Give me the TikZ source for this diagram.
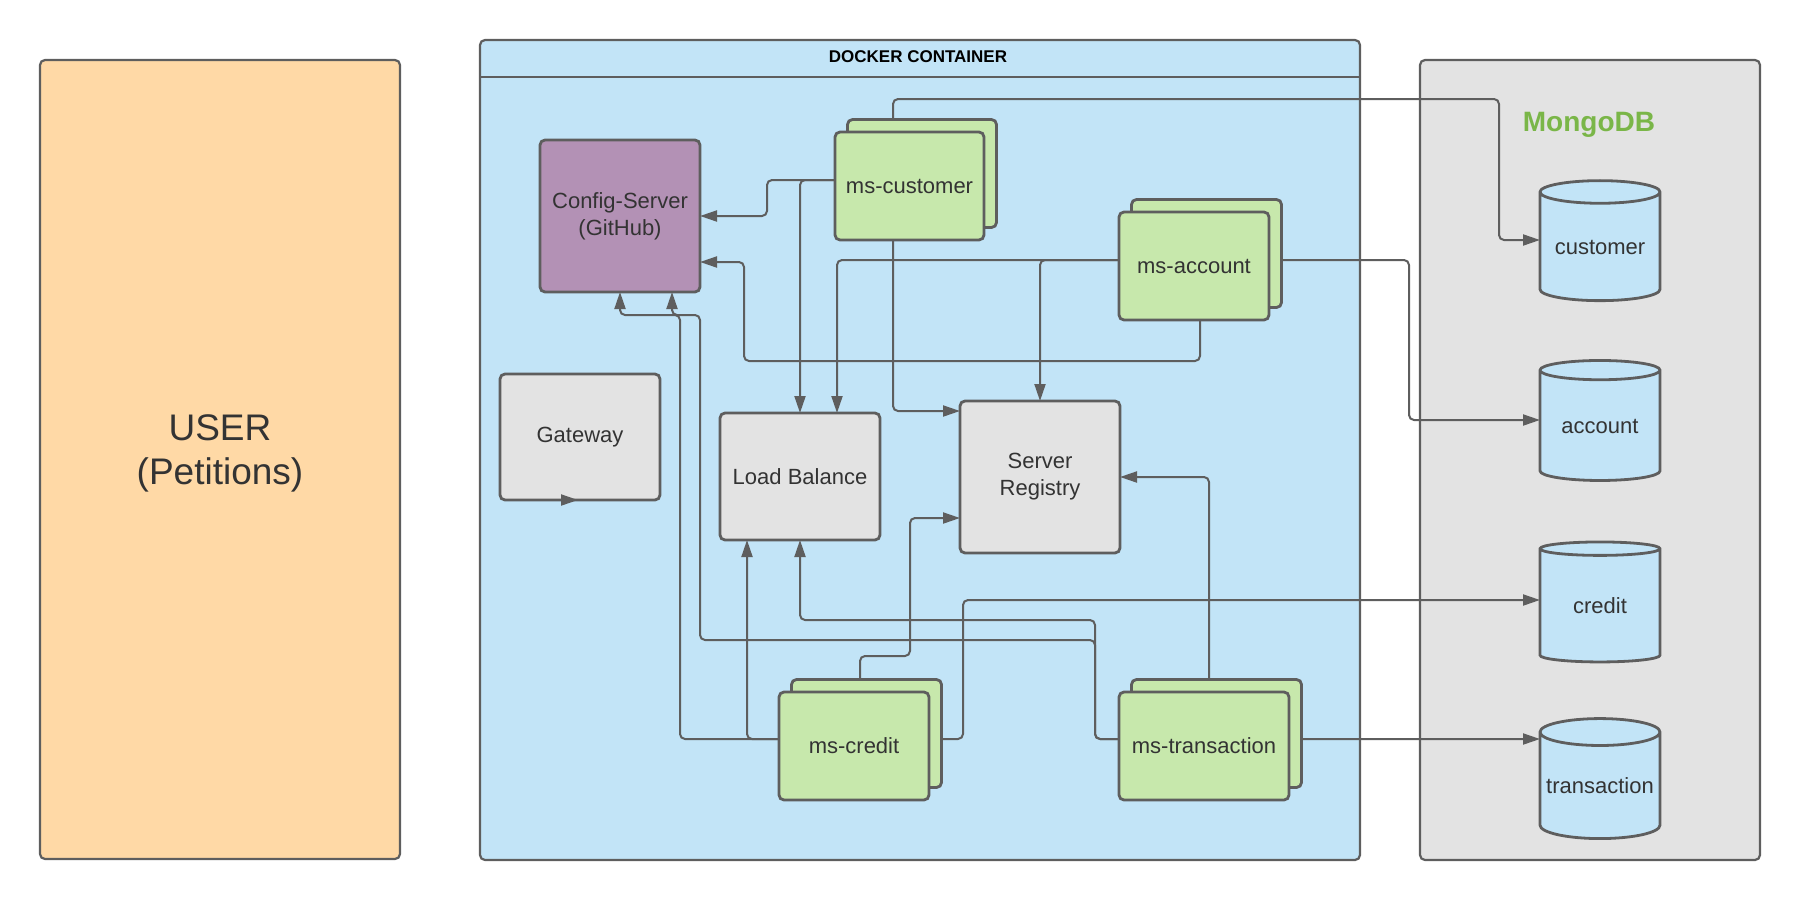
\documentclass[tikz,border=0pt]{standalone}
\usepackage{fontspec}
\setmainfont{Liberation Sans}
\usetikzlibrary{arrows.meta,shapes.geometric,shadows}
\definecolor{linegrey}{HTML}{5E5E5E}
\definecolor{ink}{HTML}{333333}
\definecolor{userfill}{HTML}{FFD9A6}
\definecolor{dockfill}{HTML}{C2E4F7}
\definecolor{greyfill}{HTML}{E3E3E3}
\definecolor{cfgfill}{HTML}{B391B5}
\definecolor{msfill}{HTML}{C7E8AC}
\definecolor{mongogreen}{HTML}{7AB648}
\pgfdeclarelayer{bg}
\pgfdeclarelayer{wires}
\pgfsetlayers{bg,wires,main}
\begin{document}
\begin{tikzpicture}[x=1pt,y=-1pt,
  every node/.style={text=ink,font=\fontsize{22}{27}\selectfont,align=center,inner sep=0pt,outer sep=0pt},
  frame/.style={rectangle,draw=linegrey,line width=2.2pt,rounded corners=5pt},
  box/.style={rectangle,draw=linegrey,line width=2.8pt,rounded corners=5pt,minimum width=160pt},
  ms/.style={box,fill=msfill,minimum height=108pt,
    copy shadow={shadow xshift=12.5pt,shadow yshift=12.5pt,fill=msfill,draw=linegrey,line width=2.8pt}},
  db/.style={cylinder,shape border rotate=90,aspect=0.25,draw=linegrey,line width=2.8pt,fill=dockfill,
    minimum width=120pt,minimum height=120pt},
  link/.style={draw=linegrey,line width=2pt,rounded corners=5pt,-{Triangle[length=17pt,width=11pt]}}]
\useasboundingbox (0,0) rectangle (1800,900);
% big frames
\begin{pgfonlayer}{bg}
\node[frame,fill=userfill,minimum width=360pt,minimum height=799pt] (user) at (220,459.5) {};
\node[frame,fill=dockfill,minimum width=880pt,minimum height=820pt] (docker) at (920,450) {};
\node[frame,fill=greyfill,minimum width=340pt,minimum height=800pt] (mongo) at (1590,460) {};
\draw[draw=linegrey,line width=2.8pt] ([yshift=-37pt]docker.north west) -- ([yshift=-37pt]docker.north east);
\end{pgfonlayer}
\node[font=\fontsize{37}{44}\selectfont] (usertxt) at (220,453) {USER\\(Petitions)};
\node[font=\bfseries\fontsize{17}{20}\selectfont,text=black] (docktitle) at (918,57) {DOCKER CONTAINER};
\node[font=\bfseries\fontsize{28}{32}\selectfont,text=mongogreen] (mongotitle) at (1589,125) {MongoDB};
% services
\node[box,fill=cfgfill,minimum height=152pt] (config) at (620,216) {Config-Server\\(GitHub)};
\node[box,fill=greyfill,minimum height=126pt] (gateway) at (580,437) {Gateway};
\node[box,fill=greyfill,minimum height=127pt] (lb) at (800,476.5) {Load Balance};
\node[box,fill=greyfill,minimum height=152pt] (registry) at (1040,477) {Server\\Registry};
\node[ms,minimum width=149pt] (mscust) at (909.5,186) {ms-customer};
\node[ms,minimum width=150pt] (msacc) at (1194,266) {ms-account};
\node[ms,minimum width=150pt] (mscredit) at (854,746) {ms-credit};
\node[ms,minimum width=170pt] (mstrans) at (1204,746) {ms-transaction};
% databases
\node[db] (custdb) at (1600,247) {customer};
\node[db] (accdb) at (1600,426) {account};
\node[db] (creditdb) at (1600,606) {credit};
\node[db] (transdb) at (1600,786) {transaction};
\draw[link] ([xshift=-18pt]gateway.south) -- ([xshift=-2pt]gateway.south);
% connectors
\begin{pgfonlayer}{wires}
% ms-customer
\draw[link] ([xshift=-16.5pt]mscust.north) |- (1499,99) |- ([yshift=7pt]custdb.west);
\draw[link] ([yshift=6pt]mscust.west) -| (767,216) -- (config.east);
\draw[link] ([yshift=6pt]mscust.west) -| (lb.north);
\draw[link] ([xshift=-16.5pt]mscust.south) |- ([yshift=66pt]registry.west);
% ms-account
\draw[link] ([yshift=6pt]msacc.west) -| ([xshift=37pt]lb.north);
\draw[link] ([yshift=6pt]msacc.west) -| (registry.north);
\draw[link] ([xshift=6pt]msacc.south) |- (744,361) |- ([yshift=-46pt]config.east);
\draw[link] ([yshift=6pt]msacc.east) -| (1409,420) -- ([yshift=6pt]accdb.west);
% ms-credit
\draw[link] ([yshift=7pt]mscredit.west) -| (680,315) -| (config.south);
\draw[link] ([yshift=7pt]mscredit.west) -| ([xshift=-53pt]lb.south);
\draw[link] ([xshift=6pt]mscredit.north) |- (910,656) |- ([yshift=-41pt]registry.west);
\draw[link] ([yshift=7pt]mscredit.east) -| (963,600) -- ([yshift=6pt]creditdb.west);
% ms-transaction
\draw[link] ([xshift=5pt]mstrans.north) |- (registry.east);
\draw[link] ([yshift=7pt]mstrans.west) -| (1095,620) -| (lb.south);
\draw[link] ([yshift=7pt]mstrans.west) -| (1095,640) -| (700,315) -| ([xshift=52pt]config.south);
\draw[link] ([yshift=7pt]mstrans.east) -- ([yshift=47pt]transdb.west);
\end{pgfonlayer}
\end{tikzpicture}
\end{document}
